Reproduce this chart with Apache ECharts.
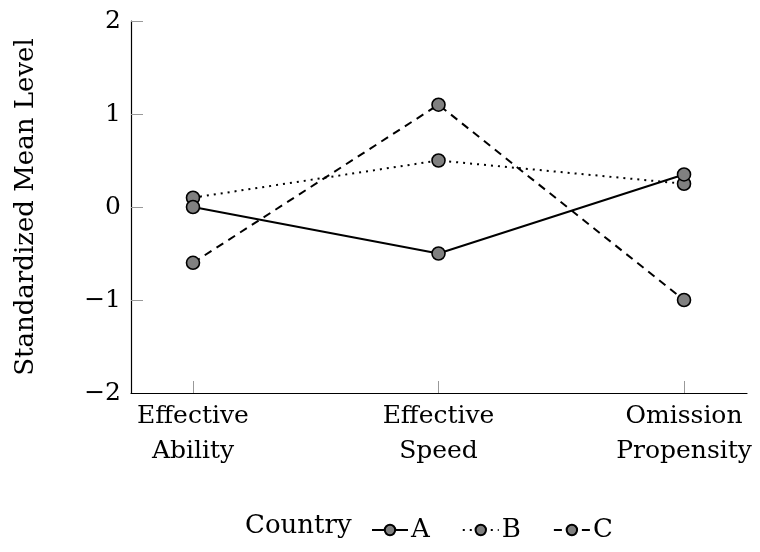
<!DOCTYPE html>
<html><head><meta charset="utf-8">
<script src="https://cdn.jsdelivr.net/npm/echarts@6/dist/echarts.min.js"></script>
<style>html,body{margin:0;padding:0;background:#fff}#c{width:760px;height:552px}</style>
</head><body><div id="c"></div>
<script>
const categories = ['Effective\nAbility', 'Effective\nSpeed', 'Omission\nPropensity'];
const seriesNames = ['A', 'B', 'C'];
const valuesA = [0, -0.5, 0.35];
const valuesB = [0.1, 0.5, 0.25];
const valuesC = [-0.6, 1.1, -1.0];
const yTicks = [-2, -1, 0, 1, 2];
const lineTypes = ['solid', [2, 5], [8, 6]];

const FONT = '"DejaVu Serif", "Liberation Serif", serif';
const chart = echarts.init(document.getElementById('c'), null, {renderer: 'canvas'});
const allVals = [valuesA, valuesB, valuesC];
const xPos = categories.map((_, i) => i);

chart.setOption({
  animation: false,
  backgroundColor: '#fff',
  textStyle: {fontFamily: FONT},
  grid: {left: 131, right: 13, top: 21, bottom: 159, containLabel: false},
  xAxis: {
    type: 'value', min: -0.2525, max: 2.2565,
    axisLine: {show: true, onZero: false, lineStyle: {color: '#000', width: 1.2}},
    axisTick: {show: true, inside: true, length: 12, customValues: xPos, lineStyle: {color: '#999', width: 1}},
    axisLabel: {customValues: xPos, formatter: v => categories[Math.round(v)] || '',
      color: '#000', fontFamily: FONT, fontSize: 25, lineHeight: 35, margin: 6},
    splitLine: {show: false}
  },
  yAxis: {
    type: 'value', min: -2, max: 2, interval: 1,
    name: 'Standardized Mean Level', nameLocation: 'middle', nameGap: 92,
    nameTextStyle: {color: '#000', fontFamily: FONT, fontSize: 26},
    axisLine: {show: true, onZero: false, lineStyle: {color: '#000', width: 1.2}},
    axisTick: {show: true, inside: true, length: 12, customValues: yTicks.slice(1), lineStyle: {color: '#999', width: 1}},
    axisLabel: {customValues: yTicks, color: '#000', fontFamily: FONT, fontSize: 25, margin: 10,
      formatter: v => (v < 0 ? '\u2212' + Math.abs(v) : String(v))},
    splitLine: {show: false}
  },
  legend: {
    left: 366, top: 512, itemWidth: 36, itemHeight: 13, itemGap: 32,
    textStyle: {color: '#000', fontFamily: FONT, fontSize: 26, padding: [0, 0, 0, -2]},
    data: seriesNames
  },
  graphic: [{type: 'text', left: 245, top: 513,
    style: {text: 'Country', font: '26px ' + FONT, fill: '#000'}}],
  series: seriesNames.map((n, k) => ({
    name: n, type: 'line',
    data: allVals[k].map((v, i) => [xPos[i], v]),
    symbol: 'circle', symbolSize: 13,
    itemStyle: {color: '#808080', borderColor: '#000', borderWidth: 1.6},
    lineStyle: {color: '#000', width: 2, type: lineTypes[k]},
    z: 3 - k
  }))
});
</script></body></html>
